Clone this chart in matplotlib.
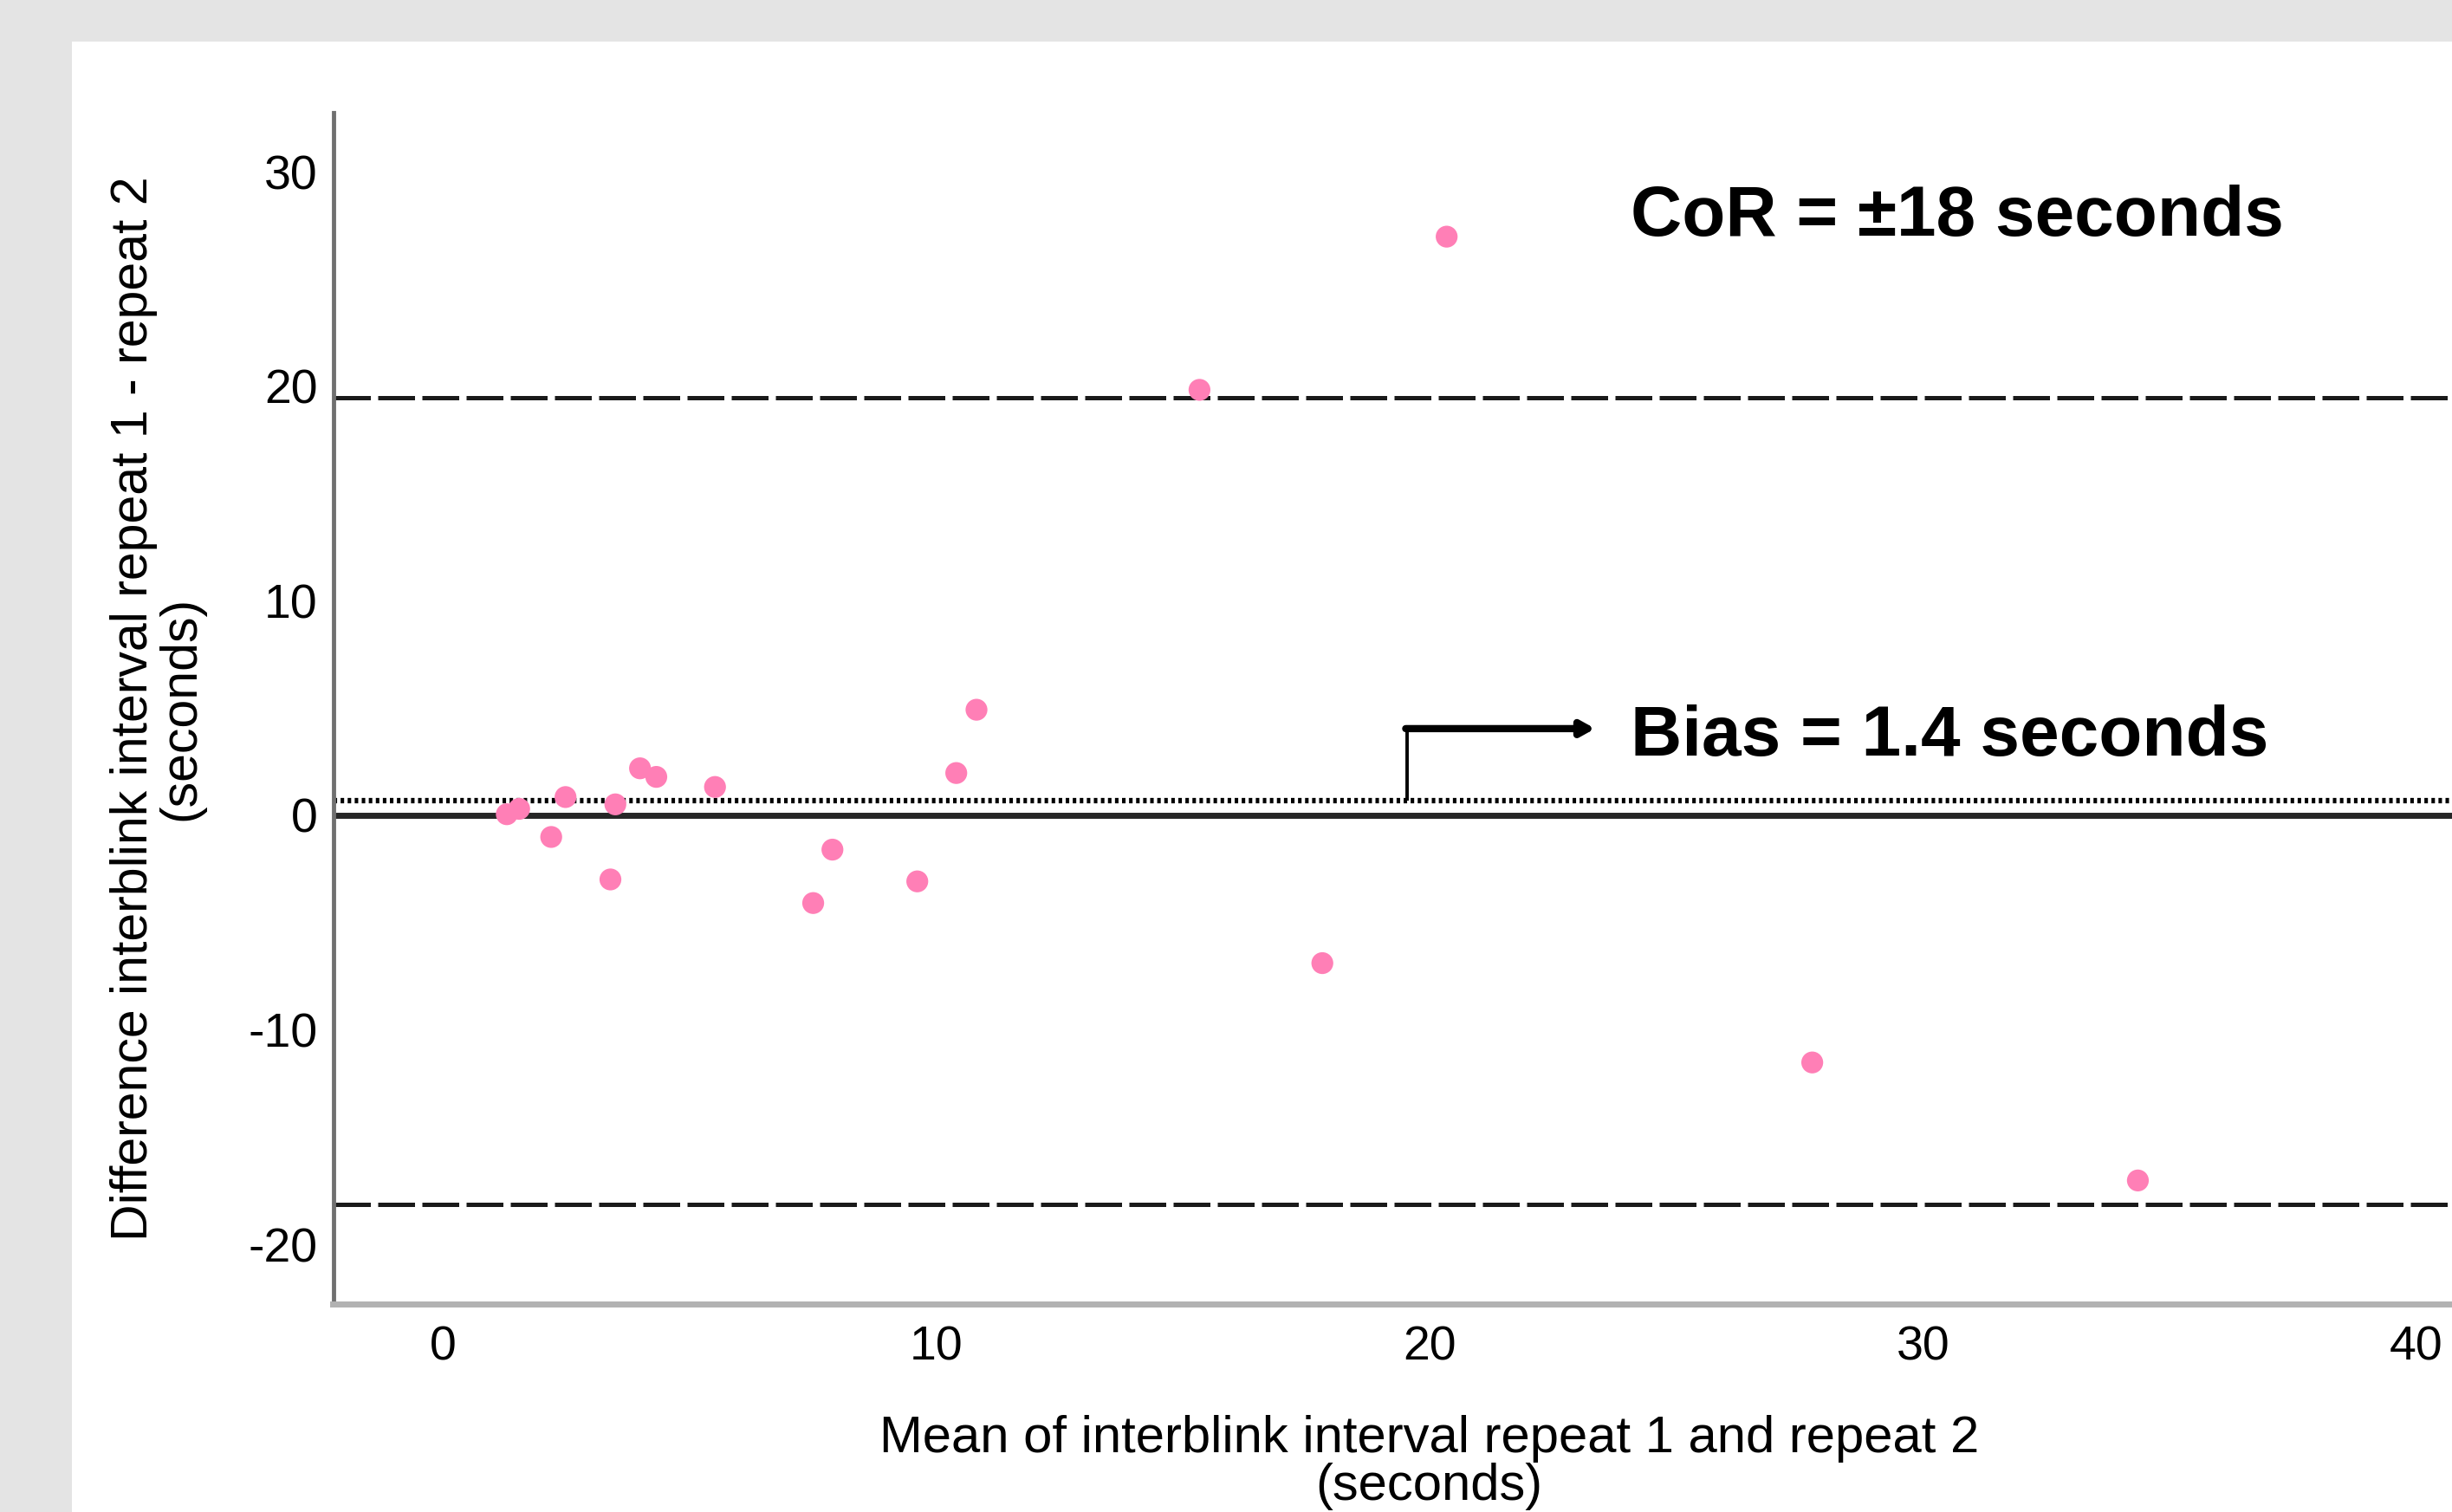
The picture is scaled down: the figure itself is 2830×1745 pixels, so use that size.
import matplotlib
matplotlib.use("Agg")
import matplotlib.pyplot as plt
from matplotlib.patches import Rectangle

plt.rcParams['font.family'] = ['Liberation Sans', 'DejaVu Sans']
plt.rcParams['axes.unicode_minus'] = False

# Bland-Altman data
mean_ibi = [1.30, 1.55, 2.20, 2.49, 3.40, 3.50, 4.00, 4.33, 5.52,
            7.51, 7.90, 9.62, 10.41, 10.82, 15.34, 17.83, 20.35, 27.76, 34.36]
diff_ibi = [0.05, 0.30, -1.01, 0.85, -2.99, 0.51, 2.19, 1.79, 1.32,
            -4.09, -1.60, -3.08, 1.97, 4.92, 19.83, -6.89, 26.97, -11.52, -17.02]

bias_line = 0.67
upper_loa = 19.45
lower_loa = -18.15
x_ticks = [0, 10, 20, 30, 40]
y_ticks = [-20, -10, 0, 10, 20, 30]

fig = plt.figure(figsize=(28.3, 17.45), dpi=100, facecolor='#e4e4e4')
fig.patches.append(Rectangle((83 / 2830, 0), 1, 1 - 48 / 1745,
                             transform=fig.transFigure, facecolor='white',
                             edgecolor='none', zorder=-10))

ax = fig.add_axes([384.5 / 2830, 240 / 1745, 2530.5 / 2830, 1375 / 1745])
ax.set_facecolor('none')
ax.set_xlim(-2.22, 42.22)
ax.set_ylim(-22.78, 32.75)

ax.axhline(0, color='#262626', lw=5, zorder=2)
ax.axhline(bias_line, color='black', lw=4.5, dashes=(0.65, 0.65), zorder=2)
ax.axhline(upper_loa, color='#1a1a1a', lw=3.6, dashes=(8.5, 1.7), zorder=2)
ax.axhline(lower_loa, color='#1a1a1a', lw=3.6, dashes=(8.5, 1.7), zorder=2)

ax.scatter(mean_ibi, diff_ibi, s=330, color='#ff7fb6', edgecolors='none', zorder=3)

# elbow arrow to the bias line
ax.plot([19.55, 19.55], [bias_line, 4.04], color='black', lw=2.8,
        solid_capstyle='butt', zorder=4)
ax.annotate('', xy=(23.36, 4.04), xytext=(19.52, 4.04),
            arrowprops=dict(arrowstyle='-|>,head_length=0.9,head_width=0.5',
                            color='black', lw=6, shrinkA=0, shrinkB=0),
            zorder=4)

ax.text(24.08, 27.87, 'CoR = \u00b118 seconds', fontsize=59, fontweight='bold',
        ha='left', va='center')
ax.text(24.08, 3.62, 'Bias = 1.4 seconds', fontsize=59, fontweight='bold',
        ha='left', va='center')

for side in ['top', 'right']:
    ax.spines[side].set_visible(False)
ax.spines['left'].set_color('#707070')
ax.spines['left'].set_linewidth(3.5)
ax.spines['bottom'].set_color('#b2b2b2')
ax.spines['bottom'].set_linewidth(5)

ax.set_xticks(x_ticks)
ax.set_yticks(y_ticks)
ax.tick_params(axis='both', length=0, labelsize=40, colors='black')
ax.tick_params(axis='x', pad=18)
ax.tick_params(axis='y', pad=13)

ax.set_xlabel('Mean of interblink interval repeat 1 and repeat 2\n(seconds)',
              fontsize=43, linespacing=1.0, ha='center', va='center')
ax.xaxis.set_label_coords(0.5, -0.133)
ax.set_ylabel('Difference interblink interval repeat 1 - repeat 2\n(seconds)',
              fontsize=42.5, linespacing=0.98, ha='center', va='center')
ax.yaxis.set_label_coords(-0.080, 0.5)

fig.savefig('out.png', dpi=100, facecolor=fig.get_facecolor())
